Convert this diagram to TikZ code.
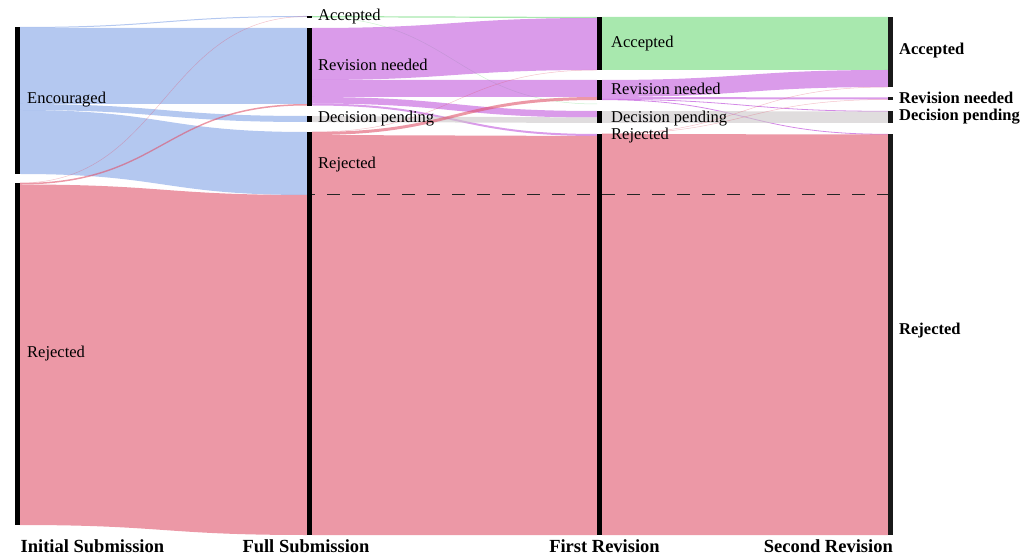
\documentclass[tikz,border=0pt]{standalone}
\usepackage{fontspec}
\setmainfont{Liberation Serif}
\definecolor{cblue}{RGB}{130,163,230}
\definecolor{cred}{RGB}{223,83,107}
\definecolor{cpurple}{RGB}{193,88,220}
\definecolor{cgreen}{RGB}{110,217,120}
\definecolor{cgray}{RGB}{203,198,200}
% band between two columns: x0, x1, y0 top, y0 bottom, y1 top, y1 bottom, style
\newcommand\sflow[7]{%
  \pgfmathsetmacro\xm{(#1+#2)/2}%
  \fill[#7] (#1,#3) .. controls (\xm,#3) and (\xm,#5) .. (#2,#5) -- (#2,#6)
    .. controls (\xm,#6) and (\xm,#4) .. (#1,#4) -- cycle;}
% hair-thin link: x0, x1, y0, y1, style
\newcommand\shair[5]{%
  \pgfmathsetmacro\xm{(#1+#2)/2}%
  \draw[#5] (#1,#3) .. controls (\xm,#3) and (\xm,#4) .. (#2,#4);}
\begin{document}
\begin{tikzpicture}[x=1pt,y=-1pt,
  fb/.style={fill=cblue,fill opacity=0.6},
  fr/.style={fill=cred,fill opacity=0.6},
  fp/.style={fill=cpurple,fill opacity=0.6},
  fg/.style={fill=cgreen,fill opacity=0.6},
  fy/.style={fill=cgray,fill opacity=0.6},
  faint/.style={line width=0.5pt,draw opacity=0.35},
  thinp/.style={draw=cpurple,line width=0.8pt,draw opacity=0.7},
  bar/.style={rectangle,anchor=north west,inner sep=0pt,minimum width=5pt,fill=black,draw=none},
  lab/.style={anchor=base west,inner sep=0pt,font=\fontsize{16.5}{18}\selectfont},
  blab/.style={anchor=base west,inner sep=0pt,font=\bfseries\fontsize{16.5}{18}\selectfont},
  head/.style={anchor=base,inner sep=0pt,font=\bfseries\fontsize{18.5}{20}\selectfont}]
\useasboundingbox (0,0) rectangle (1034,556);

% ---- Initial -> Full submission
\sflow{20}{307}{27}{28}{16}{17}{fb}
\sflow{20}{307}{28}{104}{28}{104}{fb}
\sflow{20}{307}{104}{110}{116}{122}{fb}
\sflow{20}{307}{110}{174}{132}{195}{fb}
\shair{20}{307}{183}{16.5}{cred,faint}
\sflow{20}{307}{183}{184.5}{104}{105.5}{fr}
\sflow{20}{307}{184.5}{525}{195}{535}{fr}

% ---- Full submission -> First revision
\sflow{312}{597}{16}{17.2}{17}{18.2}{fg}
\shair{312}{597}{17}{104}{cgreen,faint}
\sflow{312}{597}{28}{80}{18}{70}{fp}
\sflow{312}{597}{80}{97}{80}{97}{fp}
\sflow{312}{597}{97}{103.5}{111}{117.5}{fp}
\sflow{312}{597}{103.5}{105.5}{134}{136}{fp}
\sflow{312}{597}{116}{122}{117.5}{123}{fy}
\shair{312}{597}{132}{70}{cred,faint}
\sflow{312}{597}{132}{135}{97}{100}{fr}
\sflow{312}{597}{135}{535}{136}{535}{fr}

% ---- First revision -> Second revision
\sflow{602}{888}{17}{70}{17}{70}{fg}
\sflow{602}{888}{80}{97}{70}{87}{fp}
\sflow{602}{888}{97}{99}{97.5}{99.5}{fp}
\shair{602}{888}{99.3}{111.3}{thinp}
\shair{602}{888}{99.7}{134.3}{thinp}
\sflow{602}{888}{111}{123}{111.5}{123}{fy}
\shair{602}{888}{134}{87}{cred,faint}
\shair{602}{888}{134}{99.5}{cred,faint}
\sflow{602}{888}{134}{535}{134.5}{535}{fr}

% ---- dashed separator
\coordinate (dA) at (312,195);
\coordinate (dB) at (888,195);
\draw[black!85,line width=1pt,dash pattern=on 13pt off 12pt,dash phase=10pt] (dA) -- (dB);

% ---- node bars
\node[bar,minimum height=147pt] (iEnc) at (15,27) {};
\node[bar,minimum height=342pt] (iRej) at (15,183) {};
\node[bar,minimum height=1.5pt] (fAcc) at (307,16) {};
\node[bar,minimum height=77.5pt] (fRev) at (307,28) {};
\node[bar,minimum height=6pt] (fDec) at (307,116) {};
\node[bar,minimum height=403pt] (fRej) at (307,132) {};
\node[bar,minimum height=53pt] (rAcc) at (597,17) {};
\node[bar,minimum height=20pt] (rRev) at (597,80) {};
\node[bar,minimum height=12pt] (rDec) at (597,111) {};
\node[bar,minimum height=401pt] (rRej) at (597,134) {};
\node[bar,minimum height=70pt,fill=black!90] (sAcc) at (888,17) {};
\node[bar,minimum height=3pt,fill=black!90] (sRev) at (888,97) {};
\node[bar,minimum height=12pt,fill=black!90] (sDec) at (888,111) {};
\node[bar,minimum height=401pt,fill=black!90] (sRej) at (888,134) {};

% ---- labels
\node[lab] (lEnc) at (27,104) {Encouraged};
\node[lab] (lRej1) at (27,357.5) {Rejected};
\node[lab] (lAcc2) at (318,21) {Accepted};
\node[lab] (lRev2) at (318,71) {Revision needed};
\node[lab] (lDec2) at (318,122.3) {Decision pending};
\node[lab] (lRej2) at (318,169) {Rejected};
\node[lab] (lAcc3) at (611,47.3) {Accepted};
\node[lab] (lRev3) at (611,94.3) {Revision needed};
\node[lab] (lDec3) at (611,122.3) {Decision pending};
\node[lab] (lRej3) at (611,139.3) {Rejected};
\node[blab] (lAcc4) at (899,54.3) {Accepted};
\node[blab] (lRev4) at (899,104) {Revision needed};
\node[blab] (lDec4) at (899,121) {Decision pending};
\node[blab] (lRej4) at (899,334.5) {Rejected};

% ---- column headings
\node[head,anchor=base west] (h1) at (20.5,552.7) {Initial Submission};
\node[head] (h2) at (306,552.7) {Full Submission};
\node[head] (h3) at (604.5,552.7) {First Revision};
\node[head,anchor=base east] (h4) at (893,552.7) {Second Revision};
\end{tikzpicture}
\end{document}
